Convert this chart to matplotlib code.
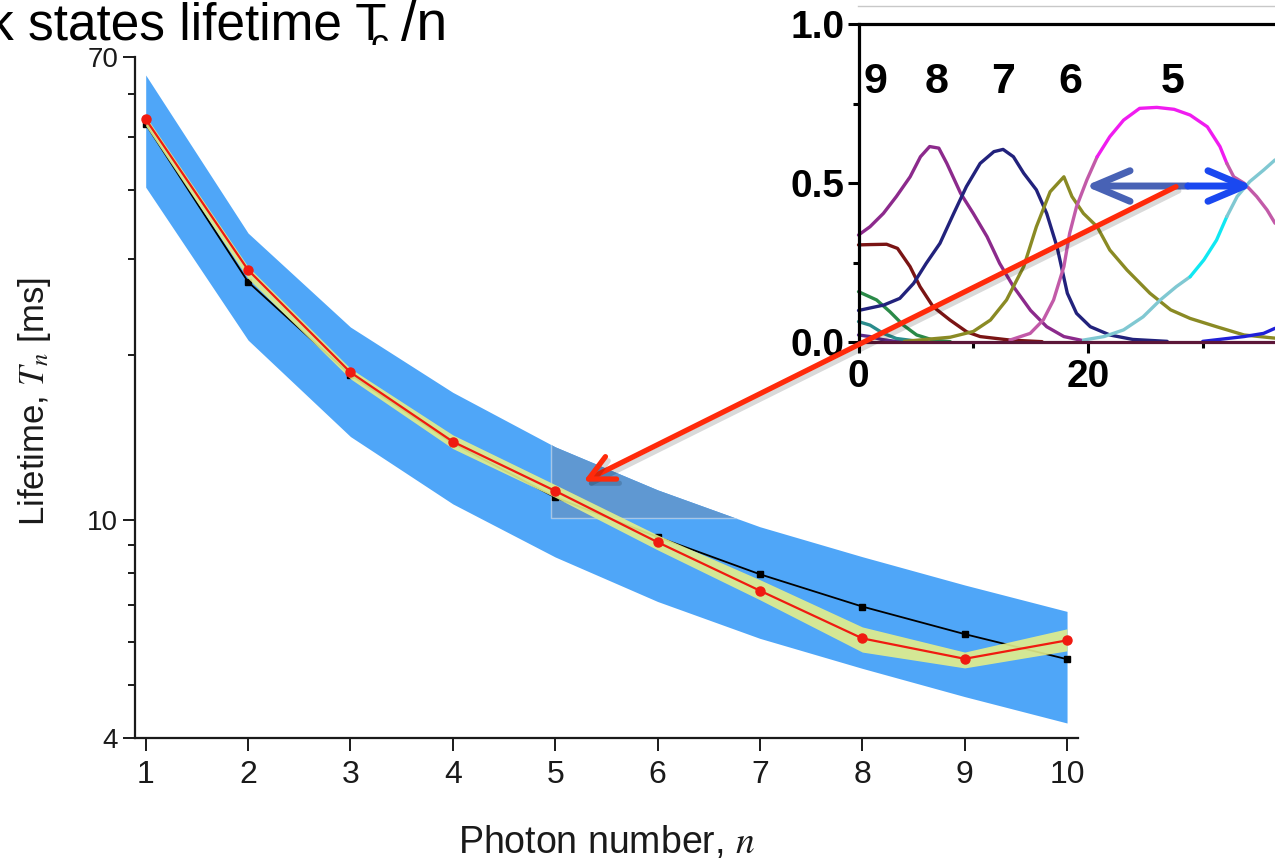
import matplotlib
matplotlib.use("Agg")
import matplotlib.pyplot as plt
from matplotlib.patches import Rectangle, ConnectionPatch
from matplotlib.lines import Line2D
from matplotlib import patheffects as pe
from matplotlib.ticker import FixedLocator, NullFormatter

plt.rcParams['font.family'] = ['Liberation Sans', 'DejaVu Sans']
plt.rcParams['mathtext.fontset'] = 'stix'

# ---------------- main panel: lifetime vs photon number ----------------
photon_n = [1, 2, 3, 4, 5, 6, 7, 8, 9, 10]
lifetime_data = [53.9, 28.6, 18.6, 13.9, 11.3, 9.11, 7.43, 6.08, 5.58, 6.03]
lifetime_theory = [52.8, 27.2, 18.4, 13.8, 11.0, 9.31, 7.96, 6.95, 6.19, 5.57]
outer_hi = [64.9, 33.4, 22.5, 17.1, 13.6, 11.35, 9.72, 8.57, 7.61, 6.81]
outer_lo = [40.5, 21.3, 14.2, 10.7, 8.56, 7.10, 6.08, 5.36, 4.76, 4.26]
inner_hi = [54.6, 29.0, 18.9, 14.3, 11.6, 9.39, 7.78, 6.38, 5.74, 6.33]
inner_lo = [52.4, 27.6, 18.1, 13.5, 11.0, 8.82, 7.15, 5.74, 5.37, 5.77]
y_major = [4, 10, 70]
y_minor = [5, 6, 7, 8, 9, 20, 30, 40, 50, 60]

# ---------------- inset: photon-number populations vs time ----------------
pop_label_n = ['9', '8', '7', '6', '5']
pop_label_t = [1.44, 6.8, 12.56, 18.43, 27.4]

t_n9 = [0, 1.0, 2.45, 3.4, 4.49, 5.36, 6.5, 7.97, 9.43, 10.6, 13.2, 16.0]
p_n9 = [0.306, 0.307, 0.308, 0.295, 0.238, 0.175, 0.112, 0.070, 0.033, 0.018, 0.007, 0.002]
t_n8 = [0, 1.0, 2.17, 3.3, 4.5, 5.4, 6.2, 7.0, 7.7, 8.9, 10.0, 11.2, 12.3, 13.5, 15.0, 16.4, 17.9, 19.6]
p_n8 = [0.337, 0.363, 0.405, 0.458, 0.520, 0.583, 0.615, 0.610, 0.562, 0.468, 0.405, 0.332, 0.248, 0.175, 0.100,
        0.049, 0.018, 0.005]
t_n7 = [0, 2.2, 3.6, 4.8, 5.9, 7.1, 8.3, 9.4, 10.6, 11.8, 12.6, 13.5, 14.4, 15.5, 16.4, 17.3, 18.2, 19.0, 20.2,
        21.9, 23.9, 26.9]
p_n7 = [0.100, 0.117, 0.138, 0.185, 0.248, 0.311, 0.405, 0.489, 0.562, 0.599, 0.606, 0.583, 0.531, 0.479, 0.405,
        0.300, 0.154, 0.091, 0.049, 0.023, 0.009, 0.003]
t_n6 = [4.0, 8.0, 10.0, 11.5, 12.9, 14.4, 15.5, 16.7, 17.9, 18.6, 19.6, 20.8, 21.9, 23.4, 25.4, 27.2, 28.9, 31.2,
        33.6, 36.3]
p_n6 = [0.003, 0.016, 0.034, 0.070, 0.133, 0.238, 0.363, 0.473, 0.520, 0.458, 0.405, 0.363, 0.290, 0.227, 0.154,
        0.102, 0.075, 0.049, 0.023, 0.013]
t_n5 = [13.2, 14.96, 16.1, 17.0, 17.9, 18.4, 19.0, 19.9, 20.8, 21.9, 23.1, 24.5, 26.0, 27.5, 28.9, 30.4, 31.5, 32.1,
        32.7, 33.6, 34.7, 35.6, 36.3]
p_n5 = [0.007, 0.028, 0.070, 0.133, 0.238, 0.342, 0.426, 0.510, 0.583, 0.646, 0.698, 0.735, 0.738, 0.732, 0.714,
        0.677, 0.615, 0.562, 0.520, 0.500, 0.458, 0.416, 0.374]
t_n4 = [19.6, 21.4, 23.1, 24.8, 26.3, 27.7, 28.9, 30.1, 31.2, 32.1, 33.0, 34.1, 35.3, 36.3]
p_n4 = [0.007, 0.018, 0.039, 0.080, 0.133, 0.175, 0.206, 0.259, 0.321, 0.395, 0.458, 0.505, 0.541, 0.573]
t_n3 = [30.0, 33.6, 35.3, 36.3]
p_n3 = [0.003, 0.018, 0.028, 0.044]
t_n10 = [0, 1.58, 2.74, 3.9, 5.07, 6.5, 8.0]
p_n10 = [0.159, 0.133, 0.096, 0.054, 0.023, 0.007, 0.002]
t_n11 = [0, 1.0, 2.16, 3.3, 4.8, 6.0]
p_n11 = [0.065, 0.054, 0.028, 0.012, 0.005, 0.002]
t_n12 = [0, 1.0, 2.0, 3.0, 4.5]
p_n12 = [0.023, 0.018, 0.009, 0.004, 0.001]

W, H = 1275, 863
fig = plt.figure(figsize=(W / 100, H / 100), dpi=100)


def fx(px):
    return px / W


def fy(py):
    return 1 - py / H


# ---------------- main axes ----------------
ax = fig.add_axes([fx(135), fy(738), fx(1078 - 135), (738 - 57) / H])
ax.set_yscale('log')
ax.set_xlim(0.8955, 10.107)
ax.set_ylim(4, 70)

band = ax.fill_between(photon_n, outer_lo, outer_hi, color='#4fa6f8', lw=0, zorder=1)

# darker highlight box over part of the outer band
box = Rectangle((4.96, 10.1), 2.1, 6.0, transform=ax.transData, fill=False)
dark = ax.fill_between(photon_n, outer_lo, outer_hi, color='#5f98d2', lw=0, zorder=1.5)
dark.set_clip_path(box)
band_path = band.get_paths()[0]
edge = Line2D([4.96, 4.96, 7.06], [16.1, 10.1, 10.1], color='white', alpha=0.45, lw=1.0,
              transform=ax.transData, zorder=1.6)
ax.add_line(edge)
edge.set_clip_path(band_path, ax.transData)

ax.plot(photon_n, lifetime_theory, color='black', lw=1.3, marker='s', ms=5, zorder=2)
ax.fill_between(photon_n, inner_lo, inner_hi, color='#e4ef8a', alpha=0.9, lw=0, zorder=3)
ax.plot(photon_n, lifetime_data, color='#f01a10', lw=1.6, marker='o', ms=6.5, zorder=4)

for side in ('top', 'right'):
    ax.spines[side].set_visible(False)
for side in ('left', 'bottom'):
    ax.spines[side].set_linewidth(1.6)
    ax.spines[side].set_color('#1a1a1a')

ax.xaxis.set_major_locator(FixedLocator(photon_n))
ax.set_xticklabels([str(v) for v in photon_n], fontsize=23)
ax.yaxis.set_major_locator(FixedLocator(y_major))
ax.yaxis.set_minor_locator(FixedLocator(y_minor))
ax.yaxis.set_minor_formatter(NullFormatter())
ax.set_yticklabels([str(v) for v in y_major], fontsize=20)
ax.tick_params(axis='x', which='major', direction='out', length=9, width=1.4, pad=7, colors='#1a1a1a')
ax.tick_params(axis='y', which='major', direction='out', length=9, width=1.4, pad=3, colors='#1a1a1a')
ax.tick_params(axis='y', which='minor', direction='out', length=5, width=1.4, colors='#1a1a1a')

fig.text(fx(35), fy(402), r'Lifetime, $T_n$ [ms]', rotation=90, ha='center', va='center', fontsize=25,
         color='#1a1a1a')
fig.text(fx(607), fy(853), r'Photon number, $n$', ha='center', va='baseline', fontsize=27,
         color='#1a1a1a')

# heading, partly running off the left edge; its subscript is partly hidden below
fig.text(fx(-12), fy(40), 'k states lifetime T', ha='left', va='baseline', fontsize=37, color='black')
fig.text(fx(370), fy(55), 'c', ha='left', va='baseline', fontsize=26, color='black')
fig.text(fx(401), fy(40), '/n', ha='left', va='baseline', fontsize=40, color='black')
fig.patches.append(Rectangle((fx(364), fy(58)), fx(40), 13 / H, transform=fig.transFigure,
                             facecolor='white', edgecolor='none', zorder=6))

# thin rule above the inset
fig.add_artist(Line2D([fx(858), 1.0], [fy(6), fy(6)], color='#c8c8c8', lw=1.0, transform=fig.transFigure))

# ---------------- inset axes ----------------
px_per_t = 11.475
axi = fig.add_axes([fx(858.5), fy(342.3), fx(40 * px_per_t), 318.3 / H])
axi.set_xlim(0, 40)
axi.set_ylim(0, 1)
axi.set_facecolor('white')
axi.spines['right'].set_visible(False)
axi.spines['left'].set_linewidth(2.3)
axi.spines['top'].set_linewidth(2.3)
axi.spines['bottom'].set_linewidth(2.3)
axi.spines['bottom'].set_color('#5c1638')

lw_in = 2.4
line_kw = dict(lw=lw_in, clip_on=False, solid_joinstyle='round', solid_capstyle='round')
curves = [
    (t_n12, p_n12, '#5a2a8a'),
    (t_n11, p_n11, '#2a8c8c'),
    (t_n10, p_n10, '#2a8a48'),
    (t_n9, p_n9, '#7a1414'),
    (t_n8, p_n8, '#8c2a8c'),
    (t_n7, p_n7, '#22227c'),
    (t_n6, p_n6, '#8a8a24'),
    (t_n3, p_n3, '#2020d8'),
]
for tt, pp, cc in curves:
    axi.plot(tt, pp, color=cc, **line_kw)

# n = 5 and n = 4 drawn in two tones
axi.plot(t_n5[:9], p_n5[:9], color='#c25aa8', **line_kw)
axi.plot(t_n5[8:18], p_n5[8:18], color='#f01cf0', **line_kw)
axi.plot(t_n5[17:], p_n5[17:], color='#c25aa8', **line_kw)
axi.plot(t_n4[:7], p_n4[:7], color='#80c8d2', **line_kw)
axi.plot(t_n4[6:10], p_n4[6:10], color='#10e8f2', **line_kw)
axi.plot(t_n4[9:], p_n4[9:], color='#80c8d2', **line_kw)

for lab, tt in zip(pop_label_n, pop_label_t):
    axi.text(tt, 0.819, lab, ha='center', va='center', fontsize=31, fontweight='bold')

axi.xaxis.set_major_locator(FixedLocator([0, 20]))
axi.xaxis.set_minor_locator(FixedLocator([10, 30]))
axi.set_xticklabels(['0', '20'], fontsize=28, fontweight='bold')
axi.yaxis.set_major_locator(FixedLocator([0, 0.5, 1.0]))
axi.yaxis.set_minor_locator(FixedLocator([0.25, 0.75]))
axi.set_yticklabels(['0.0', '0.5', '1.0'], fontsize=28, fontweight='bold')
axi.tick_params(which='major', direction='out', length=8, width=2.2, pad=2)
axi.tick_params(which='minor', direction='out', length=4.5, width=2.2)
axi.tick_params(axis='x', which='major', pad=4)

# double-headed arrow marking the width of the n = 5 window
blue_style = '->,head_length=1.3,head_width=0.55'
axi.annotate('', xy=(19.74, 0.491), xytext=(28.7, 0.491),
             arrowprops=dict(arrowstyle=blue_style, color='#4862b5', lw=5,
                             shrinkA=0, shrinkB=0, mutation_scale=20), annotation_clip=False)
axi.annotate('', xy=(34.38, 0.491), xytext=(28.7, 0.491),
             arrowprops=dict(arrowstyle=blue_style, color='#1a48f0', lw=5,
                             shrinkA=0, shrinkB=0, mutation_scale=20), annotation_clip=False)

# arrow linking the inset window to the n = 5 point of the main panel
con = ConnectionPatch(xyA=(27.67, 0.489), coordsA=axi.transData,
                      xyB=(5.275, 11.75), coordsB=ax.transData,
                      arrowstyle='->,head_length=0.9,head_width=0.45', mutation_scale=20,
                      color='#ff2a0a', lw=3.8, shrinkA=0, shrinkB=0, zorder=10)
con.set_path_effects([pe.SimpleLineShadow(offset=(2, -3), shadow_color='black', alpha=0.15), pe.Normal()])
fig.add_artist(con)

fig.savefig('out.png', dpi=100)
